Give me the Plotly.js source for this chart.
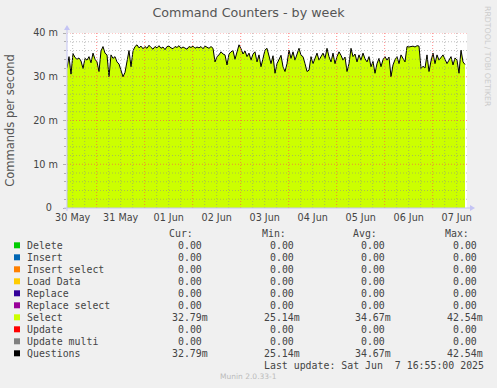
<!DOCTYPE html>
<html><head><meta charset="utf-8">
<script src="https://cdn.plot.ly/plotly-3.0.1.min.js"></script>
<style>html,body{margin:0;padding:0;background:#f0f0f0;}#chart{width:497px;height:388px;}</style>
</head><body><div id="chart"></div>
<script>
// ---------- data ----------
const startTime = [2025, 4, 30, 9, 10];   // first sample (UTC parts), hourly samples
const stepHours = 1;

// Select (commands per second, in milli-units)
const selectValues = [
 32.0,34.6,30.6,35.3,34.4,34.0,34.3,33.6,31.9,34.2,
 33.8,34.6,33.2,35.4,34.0,33.4,31.2,35.9,36.9,35.4,
 35.0,30.0,35.0,34.2,34.6,33.4,32.9,31.5,30.0,31.0,
 33.8,36.0,32.3,35.9,36.9,37.3,
 36.6,37.0,36.4,36.9,36.5,37.2,36.7,36.3,36.9,36.6,
 37.1,36.5,36.8,36.2,36.9,37.0,36.6,36.4,36.9,36.7,
 37.1,36.5,36.8,36.6,36.3,36.9,36.7,37.0,36.5,36.8,
 36.6,36.9,36.4,37.0,36.7,36.5,36.9,
 36.5,33.4,34.6,35.0,35.7,35.2,35.0,32.7,35.2,35.7,36.0,34.0,35.4,37.3,36.4,35.2,
 35.9,34.6,35.4,33.8,35.2,35.7,33.4,35.0,32.3,34.6,36.1,
 36.5,34.6,33.0,34.8,30.8,33.0,33.8,34.9,32.3,31.2,
 33.0,36.1,34.2,35.7,33.8,35.4,36.5,34.9,34.6,33.0,
 31.2,31.5,34.6,33.0,34.3,35.4,33.8,34.5,35.4,34.2,
 36.5,34.6,33.4,35.4,33.0,34.6,35.7,34.9,33.8,34.5,
 31.2,33.0,36.5,34.6,35.2,33.4,35.0,33.8,35.4,34.1,
 33.4,34.6,32.3,33.5,30.8,33.0,34.2,32.3,33.9,34.6,
 33.8,34.5,30.0,32.7,33.9,34.6,33.0,35.0,34.2,33.4,
 36.9,36.8,36.9,37.0,36.8,37.1,37.0,31.9,32.4,32.0,
 35.0,31.2,33.6,35.4,33.0,35.0,33.8,34.5,35.0,34.0,
 33.0,33.8,34.6,32.7,34.3,33.8,30.8,36.1,33.4,32.79
];
// Questions (same totals as Select)
const questionsValues = selectValues.slice();

const yTickVals = [0, 10, 20, 30, 40];
const yTickText = ['0\u00a0\u00a0', '10 m', '20 m', '30 m', '40 m'];
const dayNoons = ['2025-05-30 12:00','2025-05-31 12:00','2025-06-01 12:00','2025-06-02 12:00',
  '2025-06-03 12:00','2025-06-04 12:00','2025-06-05 12:00','2025-06-06 12:00','2025-06-07 12:00'];
const dayLabels = ['30 May','31 May','01 Jun','02 Jun','03 Jun','04 Jun','05 Jun','06 Jun','07 Jun'];

const seriesNames  = ['Delete','Insert','Insert select','Load Data','Replace','Replace select','Select','Update','Update multi','Questions'];
const seriesColors = ['#00CC00','#0066B3','#FF8000','#FFCC00','#330099','#990099','#CCFF00','#FF0000','#808080','#000000'];
const curVals = ['0.00','0.00','0.00','0.00','0.00','0.00','32.79m','0.00','0.00','32.79m'];
const minVals = ['0.00','0.00','0.00','0.00','0.00','0.00','25.14m','0.00','0.00','25.14m'];
const avgVals = ['0.00','0.00','0.00','0.00','0.00','0.00','34.67m','0.00','0.00','34.67m'];
const maxVals = ['0.00','0.00','0.00','0.00','0.00','0.00','42.54m','0.00','0.00','42.54m'];
const statHeaders = ['Cur:','Min:','Avg:','Max:'];
const lastUpdate = 'Last update: Sat Jun\u00a0\u00a07 16:55:00 2025';

// ---------- helpers ----------
const pad = n => (n < 10 ? '0' : '') + n;
function fmt(ms) {
  const d = new Date(ms);
  return d.getUTCFullYear() + '-' + pad(d.getUTCMonth() + 1) + '-' + pad(d.getUTCDate()) + ' ' +
         pad(d.getUTCHours()) + ':' + pad(d.getUTCMinutes());
}
const HOUR = 3600000;
const t0 = Date.UTC(...startTime);
const times = selectValues.map((_, i) => fmt(t0 + i * stepHours * HOUR));
const rangeEnd = t0 + 200 * HOUR;

// plot-area pixel geometry
const L = 67, T = 33, W = 400, H = 175;
const PX = px => (px - L) / W;
const PY = py => (T + H - py) / H;

const MONO = 'DejaVu Sans Mono';
const SANS = 'DejaVu Sans';
const TXT = '#444';

// ---------- grid (drawn over the area, as rrdtool does) ----------
const shapes = [];
const minorC = 'rgba(140,140,140,0.55)', majorC = 'rgba(255,80,80,0.65)';
for (let v = 2; v <= 40; v += 2) {
  shapes.push({type:'line', layer:'above', xref:'paper', yref:'y', x0:0, x1:1, y0:v, y1:v,
    line:{color: v % 10 === 0 ? majorC : minorC, width:1, dash:'1px,2px'}});
}
for (let t = Date.UTC(2025,4,30,12); t < rangeEnd; t += 6 * HOUR) {
  const major = new Date(t).getUTCHours() === 0;
  shapes.push({type:'line', layer:'above', xref:'x', yref:'paper', x0:fmt(t), x1:fmt(t), y0:0, y1:1,
    line:{color: major ? majorC : minorC, width:1, dash:'1px,2px'}});
}
// axes with arrows
const axisC = '#c4c4f4';
shapes.push({type:'line', layer:'above', xref:'paper', yref:'paper', x0:PX(L), x1:PX(L), y0:PY(211), y1:PY(29), line:{color:axisC, width:1}});
shapes.push({type:'line', layer:'above', xref:'paper', yref:'paper', x0:PX(64), x1:PX(471), y0:0, y1:0, line:{color:axisC, width:1}});
shapes.push({type:'path', layer:'above', xref:'paper', yref:'paper',
  path:`M ${PX(64)},${PY(30)} L ${PX(70)},${PY(30)} L ${PX(67)},${PY(25)} Z`, fillcolor:axisC, line:{width:0}});
shapes.push({type:'path', layer:'above', xref:'paper', yref:'paper',
  path:`M ${PX(470)},${PY(205)} L ${PX(470)},${PY(211)} L ${PX(475)},${PY(208)} Z`, fillcolor:axisC, line:{width:0}});

// ---------- legend table ----------
const annotations = [];
function ann(text, px, py, xanchor, font, extra) {
  annotations.push(Object.assign({text, xref:'paper', yref:'paper', x:PX(px), y:PY(py),
    xanchor, yanchor:'middle', showarrow:false, borderpad:0, borderwidth:0, font}, extra || {}));
}
const monoF = {family: MONO, size: 9.9, color: TXT};
const rowY0 = 245.3, rowDY = 12;
const colRight = [208.3, 300.3, 391.3, 483.3];
const headRight = [193.3, 286, 376.7, 469.3];
statHeaders.forEach((h, j) => ann(h, headRight[j], 233.3, 'right', monoF));
const cols = [curVals, minVals, avgVals, maxVals];
seriesNames.forEach((name, i) => {
  const y = rowY0 + i * rowDY;
  shapes.push({type:'rect', xref:'paper', yref:'paper', x0:PX(14), x1:PX(20), y0:PY(y + 3), y1:PY(y - 3),
    fillcolor: seriesColors[i], line:{width:0}});
  ann(name, 26.7, y, 'left', monoF);
  cols.forEach((c, j) => {
    const s = c[i].endsWith('m') ? c[i] : c[i] + '\u00a0';
    ann(s, colRight[j], y, 'right', monoF);
  });
});
ann(lastUpdate, 484, rowY0 + 10 * rowDY, 'right', monoF);
ann('Munin 2.0.33-1', 248, 376.7, 'center', {family: SANS, size: 7.5, color: '#bbbbbb'});
ann('RRDTOOL / TOBI OETIKER', 487.5, 56.5, 'center', {family: SANS, size: 7.8, color: '#cccccc'}, {textangle: 90});

// ---------- traces ----------
const traces = [
  {type:'scatter', mode:'lines', name:'Select', x: times, y: selectValues,
   fill:'tozeroy', fillcolor:'#CCFF00', line:{width:0, color:'#CCFF00'}, hoverinfo:'skip'},
  {type:'scatter', mode:'lines', name:'Questions', x: times, y: questionsValues,
   line:{width:1, color:'#000000'}, hoverinfo:'skip'}
];

const layout = {
  width: 497, height: 388,
  paper_bgcolor: '#f0f0f0', plot_bgcolor: '#ffffff',
  margin: {l: L, r: 497 - L - W, t: T, b: 388 - T - H, pad: 0},
  showlegend: false,
  title: {text: 'Command Counters - by week', font: {family: SANS, size: 12.7, color: '#555'},
          x: 0.5, xref: 'container', xanchor: 'center', y: 1 - 13 / 388, yref: 'container', yanchor: 'middle'},
  xaxis: {type: 'date', range: [fmt(t0), fmt(rangeEnd)], tickmode: 'array', tickvals: dayNoons, ticktext: dayLabels,
          ticks: '', showgrid: false, zeroline: false, showline: false, ticklabelstandoff: 2,
          tickfont: {family: SANS, size: 9.6, color: TXT}, automargin: false, fixedrange: true},
  yaxis: {range: [0, 40], tickmode: 'array', tickvals: yTickVals, ticktext: yTickText,
          ticks: 'outside', ticklen: 3, tickcolor: '#b0b0b0', tickwidth: 1, ticklabelstandoff: 3,
          minor: {tickmode: 'linear', tick0: 0, dtick: 2, ticks: 'outside', ticklen: 2, tickcolor: '#b0b0b0', showgrid: false},
          showgrid: false, zeroline: false, showline: false,
          tickfont: {family: SANS, size: 9.7, color: TXT}, automargin: false, fixedrange: true,
          title: {text: 'Commands per second', font: {family: SANS, size: 11.5, color: '#555'}, standoff: 15.5}},
  shapes, annotations
};

Plotly.newPlot('chart', traces, layout, {staticPlot: true, displayModeBar: false});
</script>
</body></html>
